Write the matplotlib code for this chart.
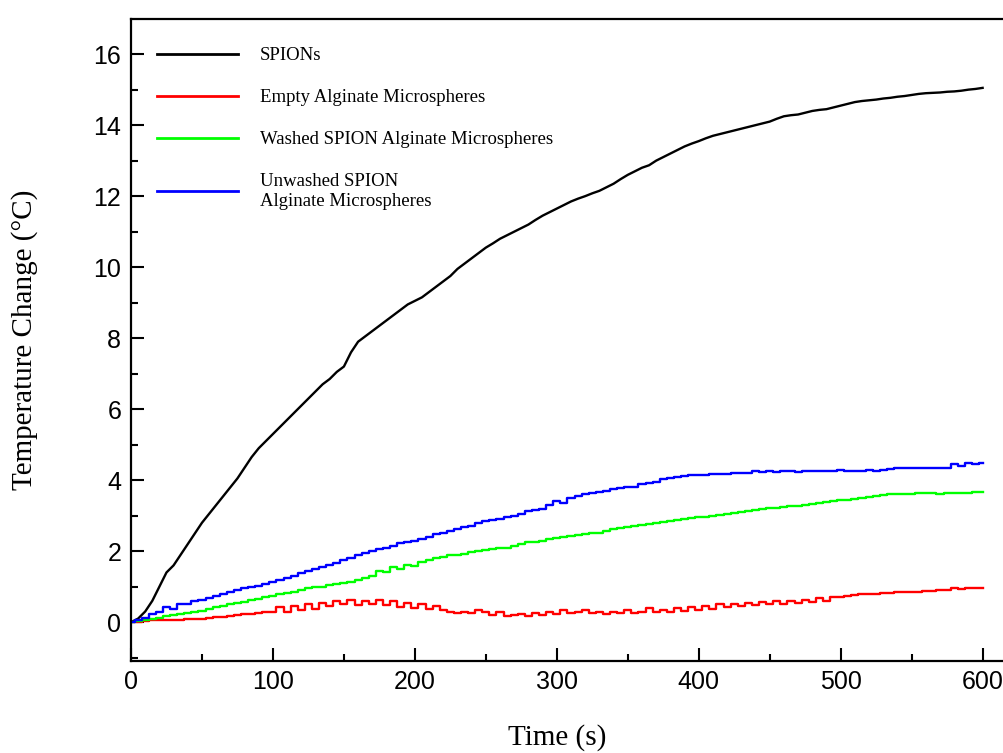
import numpy as np
import matplotlib
matplotlib.use("Agg")
import matplotlib.pyplot as plt
from matplotlib.ticker import MultipleLocator

# ---------------- data ----------------
time_s = list(range(0, 601, 5))

spions = [
    0.0, 0.1, 0.3, 0.6, 1.0, 1.4, 1.6, 1.9, 2.2, 2.5,
    2.8, 3.05, 3.3, 3.55, 3.8, 4.05, 4.35, 4.65, 4.9, 5.1,
    5.3, 5.5, 5.7, 5.9, 6.1, 6.3, 6.5, 6.7, 6.85, 7.05,
    7.2, 7.6, 7.9, 8.05, 8.2, 8.35, 8.5, 8.65, 8.8, 8.95,
    9.05, 9.15, 9.3, 9.45, 9.6, 9.75, 9.95, 10.1, 10.25, 10.4,
    10.55, 10.67, 10.8, 10.9, 11.0, 11.1, 11.2, 11.33, 11.45, 11.55,
    11.65, 11.75, 11.85, 11.93, 12.0, 12.08, 12.15, 12.25, 12.35, 12.48,
    12.6, 12.7, 12.8, 12.87, 13.0, 13.1, 13.2, 13.3, 13.4, 13.48,
    13.55, 13.63, 13.7, 13.75, 13.8, 13.85, 13.9, 13.95, 14.0, 14.05,
    14.1, 14.18, 14.25, 14.28, 14.3, 14.35, 14.4, 14.43, 14.45, 14.5,
    14.55, 14.6, 14.65, 14.68, 14.7, 14.72, 14.75, 14.77, 14.8, 14.82,
    14.85, 14.88, 14.9, 14.91, 14.92, 14.94, 14.95, 14.97, 15.0, 15.02,
    15.05,
]

empty = [
    0.0, 0.0, 0.03, 0.05, 0.06, 0.06, 0.06, 0.07, 0.08, 0.08,
    0.08, 0.12, 0.15, 0.15, 0.18, 0.2, 0.24, 0.24, 0.26, 0.28,
    0.29, 0.42, 0.3, 0.45, 0.35, 0.5, 0.38, 0.55, 0.45, 0.6,
    0.5, 0.62, 0.48, 0.6, 0.5, 0.62, 0.48, 0.6, 0.42, 0.55,
    0.4, 0.5, 0.38, 0.45, 0.35, 0.3, 0.25, 0.3, 0.25, 0.35,
    0.28, 0.2, 0.28, 0.18, 0.2, 0.22, 0.18, 0.25, 0.2, 0.3,
    0.22, 0.35, 0.25, 0.3, 0.35, 0.25, 0.3, 0.22, 0.3, 0.25,
    0.35, 0.25, 0.3, 0.4, 0.28, 0.35, 0.3, 0.4, 0.32, 0.42,
    0.35, 0.45, 0.38, 0.5, 0.42, 0.5, 0.45, 0.55, 0.48, 0.58,
    0.5, 0.6, 0.52, 0.6, 0.55, 0.62, 0.58, 0.68, 0.6, 0.7,
    0.72, 0.75, 0.76, 0.78, 0.8, 0.8, 0.82, 0.83, 0.85, 0.85,
    0.86, 0.86, 0.87, 0.88, 0.9, 0.9, 0.95, 0.92, 0.96, 0.95,
    0.96,
]

washed = [
    0.0, 0.02, 0.05, 0.1, 0.13, 0.18, 0.2, 0.22, 0.25, 0.28,
    0.32, 0.38, 0.42, 0.45, 0.5, 0.53, 0.58, 0.62, 0.65, 0.7,
    0.73, 0.78, 0.81, 0.85, 0.9, 0.95, 0.98, 1.0, 1.05, 1.08,
    1.1, 1.13, 1.18, 1.25, 1.3, 1.45, 1.4, 1.55, 1.5, 1.62,
    1.58, 1.7, 1.75, 1.8, 1.83, 1.88, 1.9, 1.93, 1.97, 2.0,
    2.03, 2.05, 2.08, 2.1, 2.15, 2.2, 2.25, 2.27, 2.3, 2.33,
    2.36, 2.4, 2.42, 2.45, 2.48, 2.5, 2.52, 2.57, 2.62, 2.65,
    2.68, 2.7, 2.73, 2.76, 2.8, 2.83, 2.85, 2.88, 2.9, 2.93,
    2.95, 2.97, 3.0, 3.03, 3.05, 3.07, 3.1, 3.13, 3.17, 3.2,
    3.22, 3.22, 3.25, 3.27, 3.28, 3.3, 3.32, 3.35, 3.38, 3.4,
    3.43, 3.45, 3.47, 3.5, 3.52, 3.55, 3.58, 3.6, 3.6, 3.62,
    3.62, 3.65, 3.63, 3.65, 3.62, 3.65, 3.65, 3.65, 3.65, 3.66,
    3.66,
]

unwashed = [
    0.0, 0.05, 0.12, 0.22, 0.3, 0.42, 0.38, 0.5, 0.52, 0.6,
    0.62, 0.68, 0.75, 0.8, 0.85, 0.9, 0.95, 1.0, 1.03, 1.08,
    1.12, 1.18, 1.23, 1.3, 1.38, 1.45, 1.5, 1.55, 1.6, 1.68,
    1.75, 1.82, 1.88, 1.95, 2.0, 2.05, 2.08, 2.15, 2.22, 2.27,
    2.3, 2.33, 2.4, 2.47, 2.52, 2.58, 2.62, 2.67, 2.72, 2.8,
    2.85, 2.87, 2.9, 2.95, 3.0, 3.05, 3.12, 3.15, 3.2, 3.3,
    3.42, 3.35, 3.5, 3.55, 3.6, 3.65, 3.68, 3.7, 3.75, 3.78,
    3.8, 3.82, 3.88, 3.92, 3.95, 4.02, 4.05, 4.08, 4.12, 4.14,
    4.15, 4.15, 4.18, 4.18, 4.18, 4.2, 4.2, 4.2, 4.25, 4.22,
    4.25, 4.22, 4.25, 4.25, 4.22, 4.25, 4.25, 4.25, 4.25, 4.25,
    4.28, 4.26, 4.26, 4.26, 4.3, 4.27, 4.3, 4.32, 4.33, 4.33,
    4.33, 4.33, 4.33, 4.33, 4.33, 4.33, 4.45, 4.4, 4.47, 4.45,
    4.47,
]

labels = ["SPIONs", "Empty Alginate Microspheres",
          "Washed SPION Alginate Microspheres",
          "Unwashed SPION\nAlginate Microspheres"]
colors = ["#000000", "#ff0000", "#00ff00", "#0000ff"]
x_ticks = [0, 100, 200, 300, 400, 500, 600]
y_ticks = [0, 2, 4, 6, 8, 10, 12, 14, 16]

# ---------------- figure ----------------
W, H = 1004, 753
fig = plt.figure(figsize=(W / 100, H / 100), dpi=100)
ax = fig.add_axes([131 / W, 92.5 / H, 880 / W, 641.5 / H])

series = [spions, empty, washed, unwashed]
for i, (vals, lab, col) in enumerate(zip(series, labels, colors)):
    ds = "default" if i == 0 else "steps-mid"
    ax.plot(time_s, vals, color=col, lw=1.7, label=lab, drawstyle=ds)

ax.set_xlim(0, 620)
ax.set_ylim(-1.08, 16.99)
ax.set_xticks(x_ticks)
ax.set_yticks(y_ticks)
ax.xaxis.set_minor_locator(MultipleLocator(50))
ax.yaxis.set_minor_locator(MultipleLocator(1))

tick_font = "Liberation Sans"
ax.tick_params(which="both", direction="in", width=1.5, top=False, right=False)
ax.tick_params(which="major", length=9.5, labelsize=18, pad=7)
ax.tick_params(which="minor", length=5)
for lbl in ax.get_xticklabels() + ax.get_yticklabels():
    lbl.set_fontfamily(tick_font)

for sp in ax.spines.values():
    sp.set_linewidth(1.6)

ax.set_xlabel("Time (s)", fontfamily="Liberation Serif", fontsize=21)
ax.set_ylabel("Temperature Change (\u00b0C)", fontfamily="Liberation Serif", fontsize=21)
ax.xaxis.label.set_va("center")
ax.yaxis.label.set_va("center")
ax.xaxis.set_label_coords((557 - 131) / 880, (660.5 - 738) / 641.5)
ax.yaxis.set_label_coords((25 - 131) / 880, (660.5 - 340) / 641.5)

leg = ax.legend(loc="upper left", bbox_to_anchor=(157 / W, 1 - 47 / H),
                bbox_transform=fig.transFigure, frameon=False,
                borderpad=0, borderaxespad=0,
                prop={"family": "Liberation Serif", "size": 13.5},
                handlelength=4.3, handletextpad=1.17, labelspacing=1.33)
for line in leg.get_lines():
    line.set_linewidth(2.0)

fig.savefig("out.png", dpi=100)
